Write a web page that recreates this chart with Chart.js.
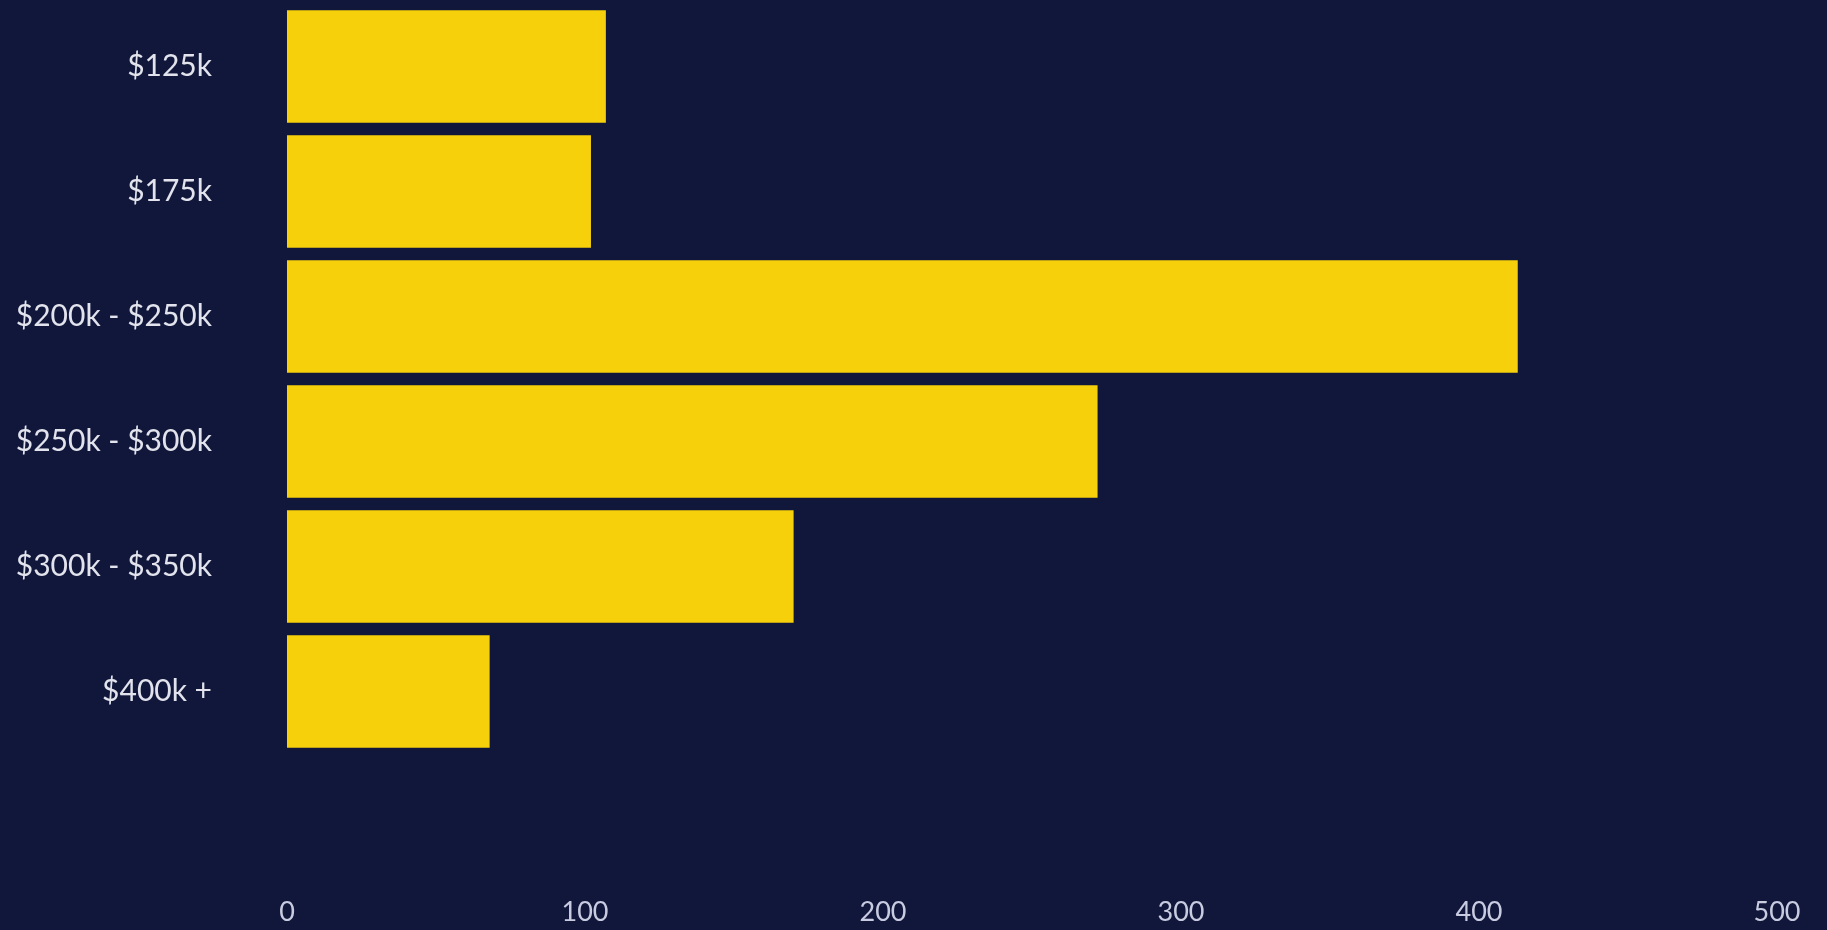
<!DOCTYPE html>
<html>
<head>
<meta charset="utf-8">
<script src="https://cdn.jsdelivr.net/npm/chart.js@4"></script>
<style>
  html, body { margin: 0; padding: 0; background: #10173b; }
  #wrap { width: 1827px; height: 930px; position: relative; }
</style>
</head>
<body>
<div id="wrap"><canvas id="priceChart"></canvas></div>
<script>
const priceBands = ["$125k", "$175k", "$200k - $250k", "$250k - $300k", "$300k - $350k", "$400k +"];
const bandCounts = [107, 102, 413, 272, 170, 68];
const countTicks = [0, 100, 200, 300, 400, 500];

const barYellow = "#f6d10b";
const labelColor = "#e2e3ec";
const tickColor = "#c9cce0";

// big tick paddings push the labels away from the bars, but chart.js also
// adds them to the chart area padding, so clear that after the fit
function noEdgePadding(scale) {
  scale.paddingLeft = 0;
  scale.paddingRight = 0;
  scale.paddingTop = 0;
  scale.paddingBottom = 0;
}

new Chart(document.getElementById("priceChart"), {
  type: "bar",
  data: {
    labels: priceBands,
    datasets: [
      {
        data: bandCounts,
        backgroundColor: barYellow,
        borderWidth: 0,
        barPercentage: 0.9,
        categoryPercentage: 1,
      },
    ],
  },
  options: {
    indexAxis: "y",
    responsive: true,
    maintainAspectRatio: false,
    animation: false,
    layout: { padding: { top: 4, right: 50, bottom: 0, left: 0 } },
    plugins: {
      legend: { display: false },
      tooltip: { enabled: false },
    },
    scales: {
      x: {
        min: 0,
        max: 500,
        afterBuildTicks: (scale) => {
          scale.ticks = countTicks.map((v) => ({ value: v }));
        },
        afterFit: (scale) => {
          scale.height = 176;
          noEdgePadding(scale);
        },
        grid: { display: false },
        border: { display: false },
        ticks: {
          color: tickColor,
          padding: 134,
          maxRotation: 0,
          font: { family: "Lato", size: 27 },
        },
      },
      y: {
        afterFit: (scale) => {
          scale.width = 287;
          noEdgePadding(scale);
        },
        grid: { display: false },
        border: { display: false },
        ticks: {
          color: labelColor,
          padding: 67,
          font: { family: "Lato", size: 30 },
        },
      },
    },
  },
});
</script>
</body>
</html>
